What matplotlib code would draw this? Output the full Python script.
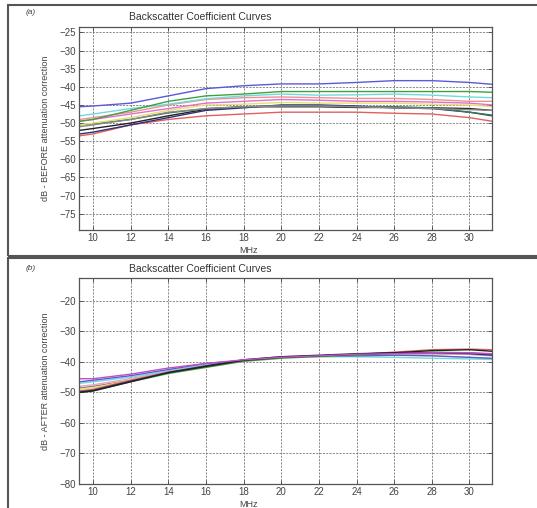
import matplotlib.pyplot as plt
from matplotlib.patches import Rectangle

plt.rcParams['font.family'] = ['Liberation Sans', 'DejaVu Sans']

# frequency points (MHz)
freq = [9.3, 10, 12, 14, 16, 18, 20, 22, 24, 26, 28, 30, 31.2]

# (a) before attenuation correction, dB
before_blue = [-45.5, -45.3, -44.5, -42.5, -40.5, -39.7, -39.2, -39.2, -38.8, -38.3, -38.3, -38.8, -39.3]
before_green = [-49.5, -49.0, -46.5, -44.0, -42.5, -42.0, -41.3, -41.3, -41.3, -41.3, -41.3, -41.3, -41.5]
before_cyan = [-48.0, -47.5, -46.0, -44.8, -43.3, -42.5, -42.0, -42.3, -42.2, -42.0, -42.3, -42.8, -43.0]
before_salmon = [-49.0, -48.5, -47.0, -45.0, -43.5, -43.0, -42.8, -43.0, -43.2, -43.2, -43.5, -44.0, -44.0]
before_magenta = [-49.5, -49.0, -47.5, -46.0, -44.5, -44.0, -43.5, -43.7, -44.0, -44.0, -44.2, -44.5, -45.0]
before_yellow = [-50.5, -50.0, -48.5, -46.5, -45.0, -44.8, -44.3, -44.5, -44.5, -44.5, -44.8, -45.0, -45.5]
before_gray = [-51.0, -50.5, -49.0, -47.0, -46.0, -45.5, -45.3, -45.3, -45.5, -45.8, -46.0, -46.3, -46.5]
before_dkgreen = [-50.5, -50.2, -49.0, -47.2, -46.0, -45.5, -45.2, -45.2, -45.5, -45.5, -45.8, -47.0, -47.8]
before_navy = [-53.0, -52.5, -50.5, -48.5, -46.5, -45.8, -45.0, -45.0, -45.3, -45.8, -46.0, -47.0, -48.0]
before_black = [-52.0, -51.5, -50.0, -48.0, -46.2, -45.5, -45.5, -45.5, -45.7, -45.7, -45.8, -46.0, -46.5]
before_red = [-53.5, -53.0, -50.5, -49.0, -48.0, -47.5, -47.0, -47.0, -47.0, -47.3, -47.5, -48.5, -49.5]

# (b) after attenuation correction, dB
after_blue = [-46.5, -46.0, -44.5, -42.5, -40.5, -39.5, -38.5, -38.0, -38.0, -37.8, -38.0, -38.5, -38.8]
after_magenta = [-45.5, -45.5, -44.0, -42.0, -40.5, -39.3, -38.5, -38.0, -37.5, -37.3, -37.0, -37.0, -37.3]
after_cyan = [-47.0, -46.5, -45.0, -43.0, -41.0, -39.5, -38.5, -38.3, -38.3, -38.5, -38.8, -39.0, -39.2]
after_black = [-50.0, -49.5, -46.5, -43.5, -41.5, -39.5, -38.5, -38.0, -37.5, -37.0, -36.3, -36.0, -36.5]
after_red = [-49.5, -49.0, -46.0, -43.3, -41.3, -39.3, -38.3, -38.0, -37.5, -36.8, -36.0, -35.8, -36.0]
after_green = [-50.0, -49.5, -46.5, -43.8, -41.8, -39.8, -38.8, -38.2, -37.8, -37.2, -36.8, -37.0, -37.5]
after_yellow = [-49.0, -48.5, -46.0, -43.5, -41.5, -39.5, -38.5, -38.3, -38.0, -37.8, -38.0, -38.5, -39.0]
after_navy = [-49.8, -49.3, -46.3, -43.5, -41.3, -39.3, -38.3, -37.8, -37.3, -37.0, -37.0, -37.3, -37.8]
after_pink = [-48.0, -47.5, -45.5, -43.0, -41.0, -39.5, -38.5, -38.0, -37.8, -37.5, -37.3, -37.5, -38.0]
after_gray = [-48.5, -48.0, -46.0, -43.5, -41.5, -39.5, -38.5, -38.2, -38.0, -37.5, -37.3, -37.5, -37.8]

before_series = [
    (before_red, '#e06060'), (before_black, '#222222'), (before_navy, '#30307a'),
    (before_dkgreen, '#3a7a50'), (before_gray, '#8a8a8a'), (before_yellow, '#e8e070'),
    (before_magenta, '#e070d0'), (before_salmon, '#f09090'), (before_cyan, '#70dada'),
    (before_green, '#40a040'), (before_blue, '#5a5ad8'),
]
after_series = [
    (after_gray, '#8a8a8a'), (after_pink, '#f0a0c0'), (after_yellow, '#e8e070'),
    (after_cyan, '#70dada'), (after_blue, '#5a5ad8'), (after_green, '#40a040'),
    (after_red, '#e06060'), (after_navy, '#30307a'), (after_black, '#222222'),
    (after_magenta, '#c050c0'),
]

fig = plt.figure(figsize=(5.37, 5.08), dpi=100)
W, H = 537, 508


def setup(ax, ylim, yticks, ylabel):
    ax.set_xlim(9.25, 31.2)
    ax.set_ylim(*ylim)
    ax.set_xticks([10, 12, 14, 16, 18, 20, 22, 24, 26, 28, 30])
    ax.set_yticks(yticks)
    ax.tick_params(direction='in', top=True, right=True, length=3, width=0.6,
                   labelsize=7, labelcolor='#444444', color='#444444', pad=2)
    ax.grid(True, color='#777777', linestyle=(0, (2.5, 1.5)), linewidth=0.6)
    for s in ax.spines.values():
        s.set_color('#555555')
        s.set_linewidth(0.9)
    ax.set_ylabel(ylabel, fontsize=6.5, color='#444444', labelpad=7)


ax1 = fig.add_axes([79 / W, 1 - 230 / H, 413 / W, 203 / H])
for vals, c in before_series:
    ax1.plot(freq, vals, color=c, linewidth=1.0)
setup(ax1, (-79.5, -23.5), list(range(-75, -24, 5)), 'dB - BEFORE attenuation correction')

ax2 = fig.add_axes([79 / W, 1 - 484 / H, 413 / W, 206 / H])
for vals, c in after_series:
    ax2.plot(freq, vals, color=c, linewidth=1.0)
setup(ax2, (-80, -12.5), list(range(-80, -19, 10)), 'dB - AFTER attenuation correction')

for ax in (ax1, ax2):
    ax.text(0.41, -0.1, 'MHz', transform=ax.transAxes, fontsize=6.5,
            color='#444444', ha='center', va='center')

# titles and panel letters
fig.text(200 / W, 1 - 17 / H, 'Backscatter Coefficient Curves', fontsize=7.5,
         color='#333333', ha='center', va='center')
fig.text(200 / W, 1 - 269 / H, 'Backscatter Coefficient Curves', fontsize=7.5,
         color='#333333', ha='center', va='center')
fig.text(31 / W, 1 - 13 / H, '(a)', fontsize=6, color='#444444', ha='center',
         va='center', style='italic')
fig.text(31 / W, 1 - 269 / H, '(b)', fontsize=6, color='#444444', ha='center',
         va='center', style='italic')

# panel frames
fig.add_artist(Rectangle((8 / W, 1 - 256 / H), 540 / W, 251 / H, transform=fig.transFigure,
                         fill=False, edgecolor='#555555', linewidth=1.5))
fig.add_artist(Rectangle((8 / W, -5 / H), 540 / W, 255 / H, transform=fig.transFigure,
                         fill=False, edgecolor='#555555', linewidth=1.5))

fig.savefig('out.png', dpi=100)
